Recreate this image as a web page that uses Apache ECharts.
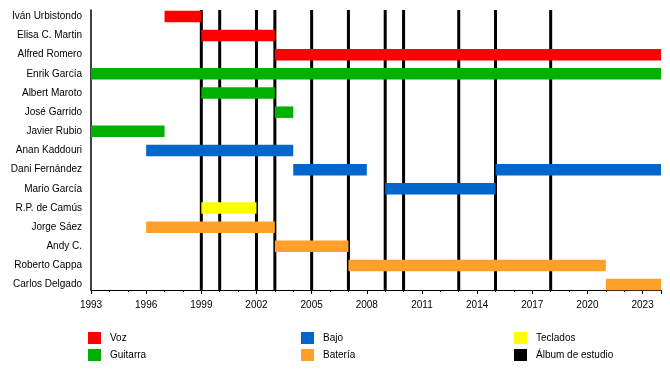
<!DOCTYPE html>
<html>
<head>
<meta charset="utf-8">
<script src="https://cdn.jsdelivr.net/npm/echarts@6/dist/echarts.min.js"></script>
<style>html,body{margin:0;padding:0;background:#fff}#c{width:670px;height:370px}</style>
</head>
<body>
<div id="c"></div>
<script>
const members = ['Iván Urbistondo', 'Elisa C. Martin', 'Alfred Romero', 'Enrik García', 'Albert Maroto', 'José Garrido', 'Javier Rubio', 'Anan Kaddouri', 'Dani Fernández', 'Mario García', 'R.P. de Camús', 'Jorge Sáez', 'Andy C.', 'Roberto Cappa', 'Carlos Delgado'];
const roles = ['Voz', 'Guitarra', 'Bajo', 'Batería', 'Teclados'];
const spanMember = ['Iván Urbistondo', 'Elisa C. Martin', 'Alfred Romero', 'Enrik García', 'Albert Maroto', 'José Garrido', 'Javier Rubio', 'Anan Kaddouri', 'Dani Fernández', 'Dani Fernández', 'Mario García', 'R.P. de Camús', 'Jorge Sáez', 'Andy C.', 'Roberto Cappa', 'Carlos Delgado'];
const spanStart = [1997, 1999, 2003, 1993, 1999, 2003, 1993, 1996, 2004, 2015, 2009, 1999, 1996, 2003, 2007, 2021];
const spanEnd = [1999, 2003, 2024, 2024, 2003, 2004, 1997, 2004, 2008, 2024, 2015, 2002, 2003, 2007, 2021, 2024];
const spanRole = ['Voz', 'Voz', 'Voz', 'Guitarra', 'Guitarra', 'Guitarra', 'Guitarra', 'Bajo', 'Bajo', 'Bajo', 'Bajo', 'Teclados', 'Batería', 'Batería', 'Batería', 'Batería'];
const albums = [1999, 2000, 2002, 2003, 2005, 2007, 2009, 2010, 2013, 2015, 2018];
const yearMin = 1993, yearMax = 2024, yearStep = 3;

const roleColors = {'Voz': '#ff0000', 'Guitarra': '#00b000', 'Bajo': '#0066cc', 'Batería': '#ffa02a', 'Teclados': '#ffff00'};
const FONT = 'Liberation Sans';

function barRender(params, api) {
  const row = api.value(0);
  const p0 = api.coord([api.value(1), row]);
  const p1 = api.coord([api.value(2), row]);
  const h = api.size([0, 1])[1] * 0.6;
  return {type: 'rect', shape: {x: p0[0], y: p0[1] - h / 2, width: p1[0] - p0[0], height: h},
    style: {fill: api.visual('color')}};
}
function albumRender(params, api) {
  const p0 = api.coord([api.value(0), 0]);
  const p1 = api.coord([api.value(0), 1]);
  return {type: 'line', shape: {x1: p0[0], y1: p0[1], x2: p1[0], y2: p1[1]},
    style: {stroke: '#000', lineWidth: 3}};
}

const series = roles.map(r => ({
  name: r, type: 'custom', xAxisIndex: 1, yAxisIndex: 1, z: 5,
  itemStyle: {color: roleColors[r]},
  renderItem: barRender,
  encode: {x: [1, 2], y: 0},
  data: spanRole.map((role, i) => role === r ? [spanMember[i], spanStart[i], spanEnd[i]] : null).filter(d => d)
}));
series.push({
  name: 'Álbum de estudio', type: 'custom', xAxisIndex: 0, yAxisIndex: 0, z: 2,
  itemStyle: {color: '#000'},
  renderItem: albumRender,
  encode: {x: 0},
  data: albums.map(a => [a])
});

const legendBase = {orient: 'vertical', top: 332, itemGap: 5, itemWidth: 13, itemHeight: 12, icon: 'rect', padding: 0,
  selectedMode: false, textStyle: {fontSize: 10, color: '#000', fontFamily: FONT, padding: [1, 0, 0, 4]}};

const option = {
  animation: false,
  backgroundColor: '#fff',
  textStyle: {fontFamily: FONT},
  grid: [
    {left: 91, right: 9, top: 10, height: 280},
    {left: 91, right: 9, top: 6.8, height: 287.4}
  ],
  xAxis: [
    {type: 'value', gridIndex: 0, min: yearMin, max: yearMax, interval: yearStep,
      axisLine: {show: true, lineStyle: {color: '#000', width: 1}},
      axisTick: {show: true, length: 4, lineStyle: {color: '#000'}},
      minorTick: {show: true, splitNumber: 3, length: 2, lineStyle: {color: '#000'}},
      splitLine: {show: false},
      axisLabel: {color: '#000', fontSize: 10, margin: 10, showMaxLabel: false, formatter: v => (v >= yearMax ? '' : String(v))}},
    {type: 'value', gridIndex: 1, min: yearMin, max: yearMax, show: false}
  ],
  yAxis: [
    {type: 'value', gridIndex: 0, min: 0, max: 1, axisLine: {show: true, lineStyle: {color: '#000', width: 1.5}},
      axisTick: {show: false}, axisLabel: {show: false}, splitLine: {show: false}},
    {type: 'category', gridIndex: 1, data: members, inverse: true,
      axisLine: {show: false}, axisTick: {show: false}, splitLine: {show: false},
      axisLabel: {color: '#000', fontSize: 10, margin: 9, interval: 0}}
  ],
  legend: [
    Object.assign({}, legendBase, {left: 88, data: ['Voz', 'Guitarra']}),
    Object.assign({}, legendBase, {left: 301, data: ['Bajo', 'Batería']}),
    Object.assign({}, legendBase, {left: 514, data: ['Teclados', 'Álbum de estudio']})
  ],
  series: series
};
const chart = echarts.init(document.getElementById('c'), null, {renderer: 'canvas'});
chart.setOption(option);
</script>
</body>
</html>
